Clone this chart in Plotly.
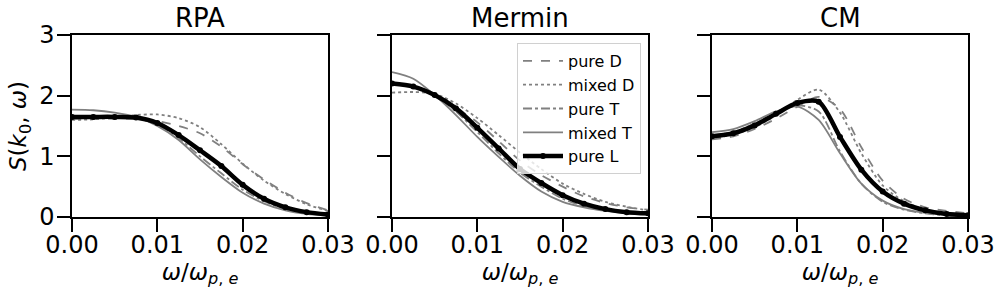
import plotly.graph_objects as go

omega = [0.0, 0.0025, 0.005, 0.0075, 0.01, 0.0125, 0.015, 0.0175, 0.02, 0.0225, 0.025, 0.0275, 0.03]

panels = ["RPA", "Mermin", "CM"]
series_names = ["pure D", "mixed D", "pure T", "mixed T", "pure L"]

# RPA
rpa_pure_D  = [1.62, 1.62, 1.62, 1.62, 1.58, 1.50, 1.38, 1.16, 0.87, 0.62, 0.40, 0.23, 0.11]
rpa_mixed_D = [1.60, 1.61, 1.64, 1.68, 1.69, 1.63, 1.48, 1.20, 0.88, 0.60, 0.38, 0.21, 0.10]
rpa_pure_T  = [1.62, 1.63, 1.64, 1.63, 1.52, 1.30, 1.00, 0.72, 0.45, 0.26, 0.13, 0.06, 0.03]
rpa_mixed_T = [1.77, 1.76, 1.72, 1.65, 1.50, 1.27, 0.95, 0.66, 0.40, 0.22, 0.11, 0.05, 0.02]
rpa_pure_L  = [1.65, 1.65, 1.65, 1.64, 1.55, 1.35, 1.10, 0.84, 0.53, 0.30, 0.16, 0.08, 0.04]

# Mermin
mer_pure_D  = [2.20, 2.15, 2.00, 1.80, 1.56, 1.25, 0.93, 0.69, 0.50, 0.34, 0.23, 0.16, 0.12]
mer_mixed_D = [2.05, 2.06, 2.03, 1.87, 1.63, 1.35, 1.06, 0.79, 0.55, 0.38, 0.25, 0.17, 0.11]
mer_pure_T  = [2.21, 2.15, 2.00, 1.74, 1.40, 1.05, 0.73, 0.50, 0.30, 0.18, 0.11, 0.07, 0.05]
mer_mixed_T = [2.39, 2.28, 2.01, 1.68, 1.32, 0.99, 0.68, 0.42, 0.25, 0.16, 0.10, 0.06, 0.04]
mer_pure_L  = [2.20, 2.15, 2.01, 1.79, 1.47, 1.13, 0.79, 0.56, 0.36, 0.22, 0.13, 0.08, 0.06]

# CM
cm_pure_D  = [1.28, 1.33, 1.45, 1.62, 1.82, 1.98, 1.78, 1.15, 0.60, 0.30, 0.16, 0.10, 0.06]
cm_mixed_D = [1.30, 1.36, 1.48, 1.68, 1.93, 2.10, 1.72, 1.05, 0.52, 0.26, 0.12, 0.06, 0.04]
cm_pure_T  = [1.35, 1.40, 1.54, 1.70, 1.84, 1.74, 1.08, 0.55, 0.25, 0.12, 0.06, 0.03, 0.02]
cm_mixed_T = [1.40, 1.45, 1.58, 1.74, 1.82, 1.60, 1.05, 0.55, 0.27, 0.13, 0.07, 0.04, 0.02]
cm_pure_L  = [1.33, 1.38, 1.51, 1.70, 1.88, 1.90, 1.32, 0.78, 0.42, 0.22, 0.11, 0.05, 0.03]

data = {
    "RPA": [rpa_pure_D, rpa_mixed_D, rpa_pure_T, rpa_mixed_T, rpa_pure_L],
    "Mermin": [mer_pure_D, mer_mixed_D, mer_pure_T, mer_mixed_T, mer_pure_L],
    "CM": [cm_pure_D, cm_mixed_D, cm_pure_T, cm_mixed_T, cm_pure_L],
}

x_ticks = [0.0, 0.01, 0.02, 0.03]
x_ticklabels = ["0.00", "0.01", "0.02", "0.03"]
y_ticks = [0, 1, 2, 3]

styles = [
    dict(color="#808080", width=1.8, dash="dash"),
    dict(color="#808080", width=1.8, dash="dot"),
    dict(color="#808080", width=1.8, dash="dashdot"),
    dict(color="#808080", width=1.8, dash="solid"),
    dict(color="black", width=4.5, dash="solid"),
]

FONT = "DejaVu Sans"
fig = go.Figure()

W, H = 1000, 300
L, R, T, B = 72, 32, 35, 83
pw = W - L - R
ph = H - T - B
domains = [[0, 256 / pw], [320 / pw, 576 / pw], [640 / pw, 1.0]]

for i, p in enumerate(panels):
    xa = "x" if i == 0 else f"x{i+1}"
    ya = "y" if i == 0 else f"y{i+1}"
    for j, name in enumerate(series_names):
        st = styles[j]
        mode = "lines+markers" if j == 4 else "lines"
        fig.add_trace(go.Scatter(
            x=omega, y=data[p][j], name=name, mode=mode,
            line=dict(color=st["color"], width=st["width"], dash=st["dash"], shape="spline", smoothing=0.8),
            marker=dict(size=6, color="black") if j == 4 else None,
            xaxis=xa, yaxis=ya, showlegend=(i == 1), legendgroup=name,
        ))

axis_common = dict(
    showline=True, mirror=True, linecolor="black", linewidth=1.5,
    ticks="outside", ticklen=13, tickwidth=2, tickcolor="black",
    showgrid=False, zeroline=False, automargin=False,
    tickfont=dict(family=FONT, size=24, color="black"),
)

layout = dict(
    width=W, height=H,
    margin=dict(l=L, r=R, t=T, b=B, autoexpand=False),
    plot_bgcolor="white", paper_bgcolor="white",
    font=dict(family=FONT, color="black"),
    legend=dict(
        x=(641 - L) / pw, y=1 - (43 - T) / ph, xanchor="right", yanchor="top",
        bgcolor="rgba(255,255,255,0.8)", bordercolor="#d0d0d0", borderwidth=1,
        font=dict(family=FONT, size=16, color="black"),
        tracegroupgap=0, itemwidth=40,
    ),
)

xtitle = "<i>ω</i>/<i>ω</i><sub><i>p</i>, <i>e</i></sub>"
for i in range(3):
    kx = "xaxis" if i == 0 else f"xaxis{i+1}"
    ky = "yaxis" if i == 0 else f"yaxis{i+1}"
    layout[kx] = dict(
        axis_common, domain=domains[i], range=[0, 0.03],
        tickvals=x_ticks, ticktext=x_ticklabels, ticklabelstandoff=-8,
        anchor="y" if i == 0 else f"y{i+1}",
        title=dict(text=xtitle, font=dict(family=FONT, size=23, color="black"), standoff=2),
    )
    layout[ky] = dict(
        axis_common, domain=[0, 1], range=[0, 3], tickvals=y_ticks,
        showticklabels=(i == 0), ticklabelstandoff=-2,
        anchor="x" if i == 0 else f"x{i+1}",
    )
layout["yaxis"]["title"] = dict(
    text="<i>S</i>(<i>k</i><sub>0</sub>, <i>ω</i>)",
    font=dict(family=FONT, size=23, color="black"), standoff=6,
)

fig.update_layout(**layout)

for i, p in enumerate(panels):
    cx = (domains[i][0] + domains[i][1]) / 2
    fig.add_annotation(
        text=p, x=cx, y=1, xref="paper", yref="paper", xanchor="center", yanchor="bottom",
        yshift=0, showarrow=False, font=dict(family=FONT, size=26, color="black"),
    )

# remove the default 8px page margin so the figure sits at the window's top-left corner
fig.write_html("out.html", config={"displayModeBar": False},
               post_script="document.body.style.margin='0';")
